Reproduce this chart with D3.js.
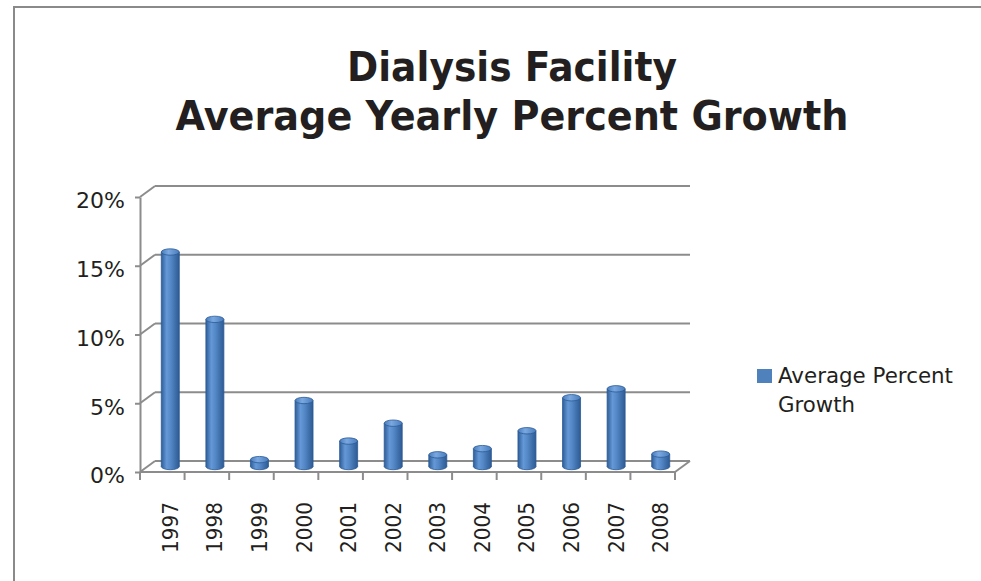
<!DOCTYPE html>
<html>
<head>
<meta charset="utf-8">
<script src="https://cdn.jsdelivr.net/npm/d3@7"></script>
<style>
  html, body { margin: 0; padding: 0; background: #ffffff; }
  svg { display: block; }
</style>
</head>
<body>
<svg id="chart" width="981" height="581"></svg>
<script>
// ---- data ----
const years = ["1997","1998","1999","2000","2001","2002","2003","2004","2005","2006","2007","2008"];
const growth = [15.6, 10.7, 0.5, 4.8, 1.85, 3.15, 0.85, 1.3, 2.6, 5.0, 5.65, 0.9];
const yTicks = [0, 5, 10, 15, 20];
const seriesName = ["Average Percent", "Growth"];
const titleLines = ["Dialysis Facility", "Average Yearly Percent Growth"];

// ---- layout ----
const W = 981, H = 581;
const plotL = 140, plotR = 675, plotB = 472, plotT = 197;
const depthX = 15, depthY = -11;     // 3D depth offset of back wall
const barDX = 8, barDY = -5.5;       // bars sit mid-depth
const gridColor = "#8c8c8c";
const textColor = "#231f20";
const font = "DejaVu Sans, Verdana, sans-serif";

const svg = d3.select("#chart");
const defs = svg.append("defs");

// border
svg.append("rect").attr("width", W).attr("height", H).attr("fill", "#ffffff");
svg.append("path").attr("d", `M14,${H} L14,7 L${W},7`)
  .attr("fill", "none").attr("stroke", "#8a8a8a").attr("stroke-width", 2);

// scales
const x = d3.scaleBand().domain(years).range([plotL, plotR]).padding(0);
const y = d3.scaleLinear().domain([0, 20]).range([plotB, plotT]);

// title
const title = svg.append("g").attr("font-family", font)
  .attr("font-weight", "bold").attr("fill", textColor).attr("text-anchor", "middle");
const titleWidths = [330, 673];
const titleBase = [81, 130];
titleLines.forEach((t, i) => {
  title.append("text").attr("x", 512).attr("y", titleBase[i])
    .attr("font-size", 41).attr("textLength", titleWidths[i])
    .attr("lengthAdjust", "spacingAndGlyphs").text(t);
});

// back-wall gridlines and diagonals
const grid = svg.append("g").attr("stroke", gridColor).attr("stroke-width", 2).attr("fill", "none");
yTicks.forEach(t => {
  const yy = y(t);
  grid.append("line").attr("x1", plotL).attr("y1", yy).attr("x2", plotL + depthX).attr("y2", yy + depthY);
  grid.append("line").attr("x1", plotL + depthX).attr("y1", yy + depthY).attr("x2", plotR + depthX).attr("y2", yy + depthY);
});
// floor right edge
grid.append("line").attr("x1", plotR).attr("y1", plotB).attr("x2", plotR + depthX).attr("y2", plotB + depthY);
// floor front edge
grid.append("line").attr("x1", plotL).attr("y1", plotB).attr("x2", plotR).attr("y2", plotB);
// category boundary ticks
const bounds = years.map(d => x(d)).concat([plotR]);
bounds.forEach(bx => {
  grid.append("line").attr("x1", bx).attr("y1", plotB).attr("x2", bx).attr("y2", plotB + 8);
});

// y axis
const yAxis = svg.append("g").attr("transform", `translate(${plotL},0)`)
  .call(d3.axisLeft(y).tickValues(yTicks).tickFormat(d => d + "%").tickSize(5).tickSizeOuter(0).tickPadding(10));
yAxis.selectAll("path, line").attr("stroke", gridColor).attr("stroke-width", 2);
yAxis.selectAll("text").attr("font-family", font)
  .attr("font-size", 22).attr("fill", textColor).attr("y", 3.7);

// x axis labels
const xAxis = svg.append("g").attr("transform", `translate(${barDX},${plotB})`)
  .call(d3.axisBottom(x).tickSize(0).tickSizeOuter(0));
xAxis.select(".domain").remove();
xAxis.selectAll("text").attr("font-family", font)
  .attr("font-size", 21.5).attr("fill", textColor)
  .attr("transform", "rotate(-90)").attr("text-anchor", "end")
  .attr("x", -30).attr("y", 0).attr("dy", "0.35em")
  .attr("textLength", 51).attr("lengthAdjust", "spacingAndGlyphs");

// cylinder gradients
const bodyGrad = defs.append("linearGradient").attr("id", "cyl").attr("x1", 0).attr("x2", 1).attr("y1", 0).attr("y2", 0);
[[0, "#2f5e99"], [0.3, "#6498d6"], [0.55, "#5286c4"], [1, "#2d5a94"]].forEach(([o, c]) =>
  bodyGrad.append("stop").attr("offset", o).attr("stop-color", c));
const capGrad = defs.append("linearGradient").attr("id", "cap").attr("x1", 0).attr("x2", 1).attr("y1", 0).attr("y2", 0);
[[0, "#4a7cbc"], [0.4, "#7aa8e0"], [1, "#4a7cbc"]].forEach(([o, c]) =>
  capGrad.append("stop").attr("offset", o).attr("stop-color", c));

// bars
const bw = 18, ry = 3.2;
const bars = svg.append("g");
years.forEach((yr, i) => {
  const cx = x(yr) + x.bandwidth() / 2 + barDX;
  const y0 = y(0) + barDY;
  const y1 = y(growth[i]) + barDY;
  const g = bars.append("g");
  g.append("ellipse").attr("cx", cx).attr("cy", y0).attr("rx", bw / 2).attr("ry", ry)
    .attr("fill", "url(#cyl)").attr("stroke", "#2b5a95").attr("stroke-width", 0.8);
  g.append("rect").attr("x", cx - bw / 2).attr("y", y1).attr("width", bw).attr("height", Math.max(0, y0 - y1))
    .attr("fill", "url(#cyl)");
  g.append("line").attr("x1", cx - bw / 2).attr("x2", cx - bw / 2).attr("y1", y1).attr("y2", y0)
    .attr("stroke", "#2b5a95").attr("stroke-width", 0.8);
  g.append("line").attr("x1", cx + bw / 2).attr("x2", cx + bw / 2).attr("y1", y1).attr("y2", y0)
    .attr("stroke", "#2b5a95").attr("stroke-width", 0.8);
  g.append("ellipse").attr("cx", cx).attr("cy", y1).attr("rx", bw / 2).attr("ry", ry)
    .attr("fill", "url(#cap)").attr("stroke", "#2b5a95").attr("stroke-width", 0.8);
});

// legend
const legend = svg.append("g");
legend.append("rect").attr("x", 757).attr("y", 369).attr("width", 15).attr("height", 14).attr("fill", "#4f81bd");
const legendWidths = [175, 77];
seriesName.forEach((t, i) => {
  legend.append("text").attr("x", 778).attr("y", 383 + i * 29)
    .attr("font-family", font).attr("font-size", 22)
    .attr("textLength", legendWidths[i]).attr("lengthAdjust", "spacingAndGlyphs")
    .attr("fill", textColor).text(t);
});
</script>
</body>
</html>
